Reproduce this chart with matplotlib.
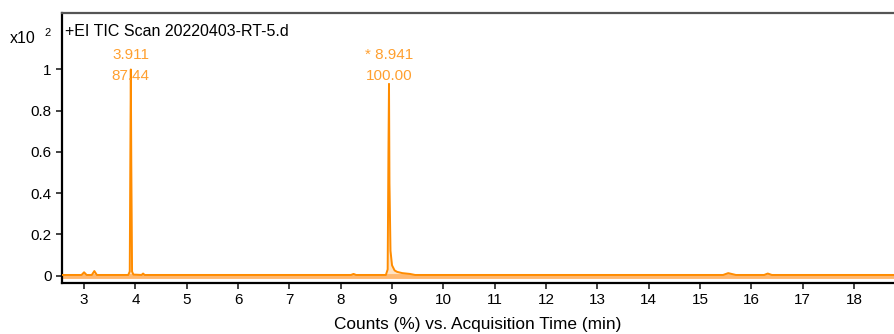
import matplotlib
matplotlib.use("Agg")
import matplotlib.pyplot as plt
import numpy as np

plt.rcParams["font.family"] = ["Liberation Sans", "DejaVu Sans"]

# TIC trace (time in min, counts x10^2)
times = [2.57, 2.95, 3.0, 3.05, 3.15, 3.2, 3.25, 3.86, 3.89, 3.905, 3.911, 3.92, 3.935,
         3.96, 4.12, 4.15, 4.18, 8.2, 8.25, 8.3, 8.88, 8.915, 8.93, 8.941, 8.95, 8.97,
         9.0, 9.05, 9.1, 9.2, 9.35, 9.45, 15.45, 15.55, 15.7, 16.25, 16.32, 16.4, 18.8]
counts = [0.003, 0.003, 0.016, 0.003, 0.003, 0.022, 0.003, 0.003, 0.02, 0.75, 1.0, 0.55, 0.02,
          0.005, 0.003, 0.01, 0.003, 0.003, 0.008, 0.003, 0.003, 0.03, 0.6, 0.93, 0.45, 0.12,
          0.05, 0.025, 0.018, 0.012, 0.008, 0.003, 0.003, 0.012, 0.003, 0.003, 0.01, 0.003, 0.003]

peak_rt = [3.911, 8.941]
peak_labels = ["3.911\n87.44", "* 8.941\n100.00"]

title = "+EI TIC Scan 20220403-RT-5.d"
xlabel = "Counts (%) vs. Acquisition Time (min)"

orange = "#ff8c00"
label_orange = "#ffa030"

fig = plt.figure(figsize=(8.94, 3.34), dpi=100)
ax = fig.add_axes([62 / 894, 51 / 334, 1 - 62 / 894, 270 / 334])

ax.fill_between(times, 0, counts, color="#ffe3c4", lw=0)
ax.axhline(0.0, color="#ffb870", lw=3.5, zorder=1)
ax.plot(times, counts, color=orange, lw=1.4, zorder=3)

for rt, lab in zip(peak_rt, peak_labels):
    ax.text(rt, 1.02, lab, color=label_orange, fontsize=11, ha="center", va="center",
            linespacing=1.6, zorder=4)

ax.text(0.004, 0.93, title, transform=ax.transAxes, fontsize=11.5, ha="left", va="center")
ax.text(-0.063, 0.905, "x10", transform=ax.transAxes, fontsize=11.5, ha="left", va="center")
ax.text(-0.021, 0.925, "2", transform=ax.transAxes, fontsize=8, ha="left", va="center")

ax.set_xlim(2.57, 18.78)
ax.set_ylim(-0.036, 1.274)
ax.set_xticks(range(3, 19))
ax.set_yticks([0, 0.2, 0.4, 0.6, 0.8, 1])
ax.set_yticklabels(["0", "0.2", "0.4", "0.6", "0.8", "1"])
ax.tick_params(direction="out", length=4, width=1.2, labelsize=11, color="#222222")
ax.set_xlabel(xlabel, fontsize=12.4, labelpad=7)

ax.spines["right"].set_visible(False)
ax.spines["left"].set_linewidth(1.6)
ax.spines["bottom"].set_linewidth(1.6)
ax.spines["top"].set_linewidth(1.6)
ax.spines["top"].set_color("#555555")

fig.savefig("out.png", dpi=100)
